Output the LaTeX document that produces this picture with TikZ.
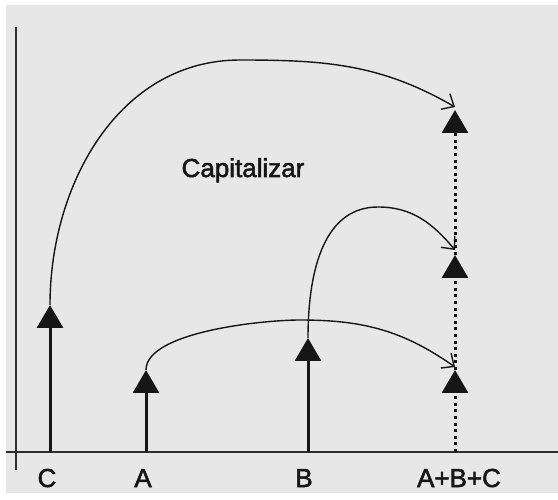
\documentclass[tikz,border=0pt]{standalone}
\usepackage{fontspec}
\setmainfont{Liberation Sans}
\newfontfamily\capfont{Liberation Sans}[FakeBold=2]
\usetikzlibrary{arrows.meta}
\definecolor{capgrey}{HTML}{E7E7E7}
\definecolor{capink}{HTML}{161616}
\definecolor{capaxis}{HTML}{2E2E2E}

\begin{document}
\begin{tikzpicture}[
  x=1pt, y=1pt,
  font=\capfont\fontsize{26}{30}\selectfont,
  axis/.style={capaxis, line width=1.8pt},
  stem/.style={-{Triangle[length=23pt, width=26pt]}, capink, line width=3pt},
  sumpart/.style={-{Triangle[length=23pt, width=26pt]}, capink, line width=3pt,
                  dash pattern=on 3pt off 3.6pt},
  capit/.style={-{Straight Barb[length=10pt, width=18pt]}, capink, line width=1.4pt},
  lbl/.style={text=capink, inner sep=0pt, anchor=base},
]
\useasboundingbox (0,0) rectangle (558,499);
\fill[capgrey] (6,6) rectangle (558,494);

% ================= axes ============================================
\coordinate (ytop) at (16,472);
\coordinate (ybot) at (16,29);
\coordinate (xl) at (6,47);
\coordinate (xr) at (558,47);
\draw[axis] (ybot) -- (ytop);
\draw[axis] (xl) -- (xr);

% ================= cash flows ======================================
\coordinate (baseC) at (50,47);  \coordinate (tipC) at (50,194);
\coordinate (baseA) at (146,47); \coordinate (tipA) at (146,129);
\coordinate (baseB) at (308,47); \coordinate (tipB) at (308,161);
\foreach \n in {C,A,B}
  \draw[stem] (base\n) -- (tip\n);

% summed value, stacked with a dotted line
\coordinate (baseS) at (455,47);
\coordinate (sumA) at (455,129);
\coordinate (sumB) at (455,244);
\coordinate (sumC) at (455,389);
\draw[sumpart] (baseS) -- (sumA);
\draw[sumpart] (sumA) -- (sumB);
\draw[sumpart] (sumB) -- (sumC);

% ================= labels ==========================================
\node[lbl] (labC) at (47,12)  {C};
\node[lbl] (labA) at (143,12) {A};
\node[lbl] (labB) at (304,12) {B};
\node[lbl] (labS) at (459,12) {A+B+C};
\node[lbl] (cap)  at (243,322) {Capitalizar};

% ================= capitalisation arcs =============================
\coordinate (topC) at (240,439);
\coordinate (topB) at (378,292);
\coordinate (topA) at (300,179);
\coordinate (endC) at (455,392);
\coordinate (endB) at (455,249);
\coordinate (endA) at (455,132);
\draw[capit] (tipC) to[out=90, in=180] (topC) to[out=0, in=150] (endC);
\draw[capit] (tipB) to[out=90, in=180] (topB) to[out=0, in=130] (endB);
\draw[capit] (tipA) to[out=90, in=180, looseness=0.6] (topA)
  to[out=0, in=145] (endA);

\end{tikzpicture}
\end{document}
